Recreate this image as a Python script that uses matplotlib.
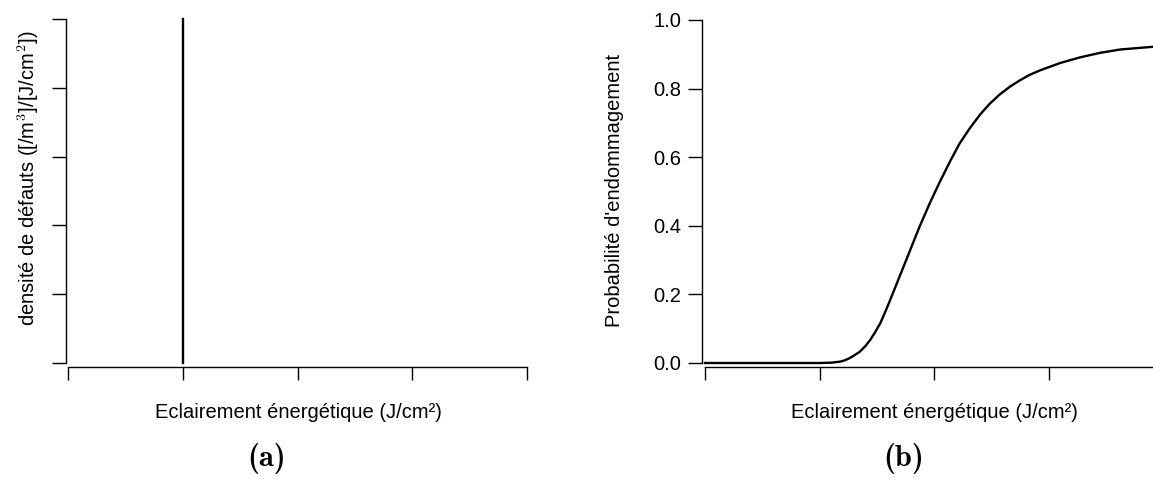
import matplotlib.pyplot as plt

plt.rcParams['font.family'] = ['Liberation Sans', 'DejaVu Sans']
plt.rcParams['mathtext.fontset'] = 'cm'

# (a) defect density: a single spike at one fluence
spike_x = [1.0, 1.0]
spike_y = [0.0, 5.0]

# (b) damage probability
fluence = [0.0, 0.5, 1.0, 1.1, 1.18, 1.22, 1.26, 1.30, 1.35, 1.40, 1.44, 1.48,
           1.53, 1.57, 1.61, 1.70, 1.79, 1.87, 1.96, 2.05, 2.14, 2.22, 2.31,
           2.40, 2.48, 2.57, 2.66, 2.75, 2.83, 2.92, 3.10, 3.27, 3.44, 3.62,
           3.91]
proba = [0.0, 0.0, 0.0, 0.001, 0.004, 0.008, 0.014, 0.022, 0.033, 0.050, 0.067,
         0.088, 0.117, 0.148, 0.180, 0.255, 0.330, 0.397, 0.466, 0.530, 0.590,
         0.640, 0.685, 0.725, 0.755, 0.783, 0.806, 0.825, 0.840, 0.853, 0.875,
         0.891, 0.904, 0.914, 0.922]
yticks_b = [0.0, 0.2, 0.4, 0.6, 0.8, 1.0]

W, H = 1153, 483
fig = plt.figure(figsize=(W / 100, H / 100), dpi=100)

px = 0.72  # points per pixel at dpi 100
fs = 14.5

# --- panel (a)
ax1 = fig.add_axes([68 / W, 1 - 363 / H, (527 - 68) / W, (363 - 19) / H])
ax1.plot(spike_x, spike_y, color='black', lw=1.7, clip_on=False)
ax1.set_xlim(0, 4)
ax1.set_ylim(0, 5)
ax1.set_xticks([0, 1, 2, 3, 4])
ax1.set_yticks([0, 1, 2, 3, 4, 5])
ax1.tick_params(axis='x', length=13 * px, width=1.0, labelbottom=False)
ax1.tick_params(axis='y', length=14 * px, width=1.0, labelleft=False)
ax1.spines['left'].set_position(('outward', 2 * px))
ax1.spines['bottom'].set_position(('outward', 4 * px))

# --- panel (b)
ax2 = fig.add_axes([705 / W, 1 - 363 / H, (W - 705) / W, (363 - 20) / H])
ax2.plot(fluence, proba, color='black', lw=1.7, clip_on=False)
ax2.set_xlim(0, 3.906)
ax2.set_ylim(0, 1)
ax2.set_xticks([0, 1, 2, 3])
ax2.set_yticks(yticks_b)
ax2.set_yticklabels([f'{v:.1f}' for v in yticks_b])
ax2.tick_params(axis='x', length=13 * px, width=1.0, labelbottom=False)
ax2.tick_params(axis='y', length=14 * px, width=1.0, labelsize=fs, pad=7 * px)
ax2.spines['left'].set_position(('outward', 3 * px))
ax2.spines['bottom'].set_position(('outward', 4 * px))

for ax in (ax1, ax2):
    ax.spines['top'].set_visible(False)
    ax.spines['right'].set_visible(False)
    for s in ('left', 'bottom'):
        ax.spines[s].set_linewidth(1.0)

# axis titles
fig.text(298 / W, 1 - 413 / H, 'Eclairement énergétique (J/cm²)', fontsize=fs,
         ha='center', va='center')
fig.text(934 / W, 1 - 413 / H, 'Eclairement énergétique (J/cm²)', fontsize=fs,
         ha='center', va='center')
fig.text(28 / W, 1 - 178 / H, r'densité de défauts ([/m$^3$]/[J/cm$^2$])',
         fontsize=fs, rotation=90, ha='center', va='center')
fig.text(614 / W, 1 - 190 / H, "Probabilité d'endommagement", fontsize=fs,
         rotation=90, ha='center', va='center')

# sub-figure captions
fig.text(267 / W, 1 - 458 / H, '(a)', family='cmb10', fontsize=22,
         ha='center', va='center')
fig.text(904 / W, 1 - 458 / H, '(b)', family='cmb10', fontsize=22,
         ha='center', va='center')

fig.savefig('out.png', dpi=100)
